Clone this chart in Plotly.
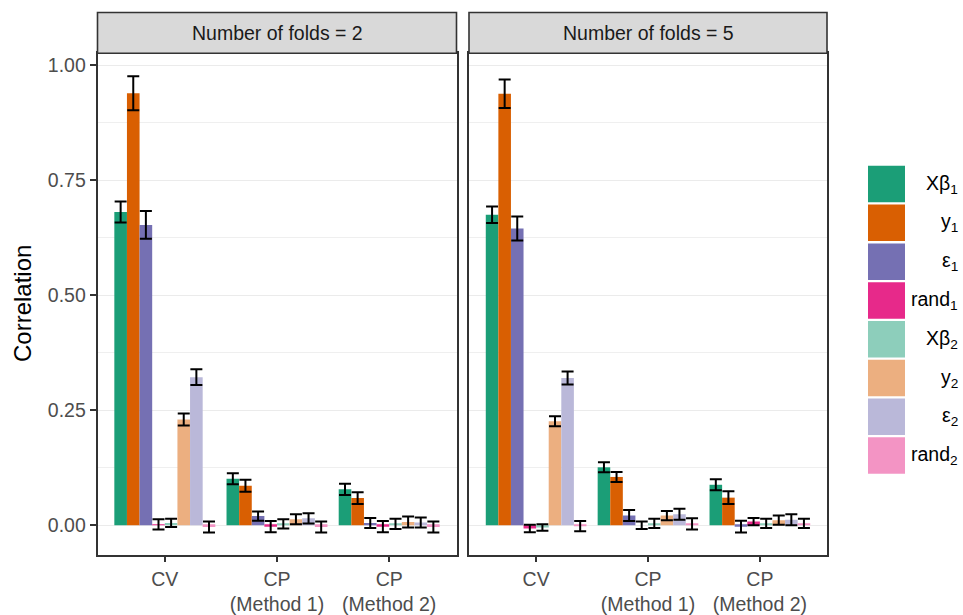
import plotly.graph_objects as go

# ---- data -------------------------------------------------------------
methods = ["CV", "CP<br>(Method 1)", "CP<br>(Method 2)"]
series = ["Xβ<sub>1</sub>", "y<sub>1</sub>", "ε<sub>1</sub>", "rand<sub>1</sub>",
          "Xβ<sub>2</sub>", "y<sub>2</sub>", "ε<sub>2</sub>", "rand<sub>2</sub>"]
panels = ["Number of folds = 2", "Number of folds = 5"]

# mean correlation per series, one row per method (CV, CP1, CP2)
mean_folds2 = {
    "CV":  [0.681, 0.939, 0.653, 0.002, 0.005, 0.230, 0.322, -0.004],
    "CP1": [0.101, 0.086, 0.020, -0.003, 0.003, 0.013, 0.015, -0.004],
    "CP2": [0.078, 0.059, 0.005, -0.003, 0.003, 0.007, 0.006, -0.004],
}
err_folds2 = {
    "CV":  [0.023, 0.037, 0.030, 0.011, 0.009, 0.013, 0.017, 0.012],
    "CP1": [0.012, 0.013, 0.010, 0.012, 0.010, 0.011, 0.011, 0.012],
    "CP2": [0.012, 0.013, 0.011, 0.012, 0.011, 0.012, 0.011, 0.012],
}
mean_folds5 = {
    "CV":  [0.675, 0.938, 0.645, -0.007, -0.005, 0.226, 0.320, -0.002],
    "CP1": [0.126, 0.105, 0.021, 0.000, 0.004, 0.021, 0.024, 0.003],
    "CP2": [0.088, 0.060, -0.003, 0.008, 0.004, 0.011, 0.012, 0.004],
}
err_folds5 = {
    "CV":  [0.018, 0.031, 0.026, 0.008, 0.007, 0.011, 0.014, 0.011],
    "CP1": [0.011, 0.011, 0.012, 0.008, 0.010, 0.010, 0.012, 0.012],
    "CP2": [0.012, 0.014, 0.013, 0.008, 0.010, 0.010, 0.012, 0.010],
}
method_keys = ["CV", "CP1", "CP2"]

colors = ["#1B9E77", "#D95F02", "#7570B3", "#E7298A",
          "#8DCEBB", "#ECAF80", "#BAB8D9", "#F394C4"]

# ---- layout geometry (pixels) -----------------------------------------
W, H = 963, 615
FONT = "Liberation Sans, Arial, sans-serif"
TICK_SIZE = 19.5
panel_x = [(97.5, 456.5), (469.0, 827.0)]
panel_top, panel_bot = 54.0, 562.0
strip_top = 12.7


def px(x):
    return x / W


def py(y):
    return 1 - y / H


fig = go.Figure()

for p, (means, errs) in enumerate([(mean_folds2, err_folds2), (mean_folds5, err_folds5)]):
    xa = "x" if p == 0 else "x2"
    ya = "y" if p == 0 else "y2"
    for s, name in enumerate(series):
        fig.add_trace(go.Bar(
            x=methods,
            y=[means[k][s] for k in method_keys],
            name=name,
            marker=dict(color=colors[s], line=dict(width=0)),
            error_y=dict(type="data", array=[errs[k][s] for k in method_keys],
                         color="black", thickness=2, width=6),
            xaxis=xa, yaxis=ya,
            showlegend=False,
        ))

axis_common_x = dict(
    type="category", range=[-0.6, 2.6], showgrid=False, zeroline=False,
    ticks="outside", ticklen=6, tickwidth=1.6, tickcolor="#333333",
    showline=True, mirror=True, linecolor="#333333", linewidth=1.6,
    tickfont=dict(family=FONT, size=TICK_SIZE, color="#4D4D4D"),
    fixedrange=True,
)
axis_common_y = dict(
    range=[-0.064, 1.026], tickvals=[0, 0.25, 0.5, 0.75, 1.0],
    ticktext=["0.00", "0.25", "0.50", "0.75", "1.00"],
    showgrid=True, gridcolor="#EBEBEB", gridwidth=1.4, zeroline=False,
    minor=dict(tickvals=[0.125, 0.375, 0.625, 0.875], showgrid=True,
               gridcolor="#EFEFEF", gridwidth=1.0, ticks=""),
    showline=True, mirror=True, linecolor="#333333", linewidth=1.6,
    tickfont=dict(family=FONT, size=TICK_SIZE, color="#4D4D4D"),
    fixedrange=True,
)

fig.update_layout(
    width=W, height=H,
    margin=dict(l=0, r=0, t=0, b=0),
    paper_bgcolor="white", plot_bgcolor="white",
    barmode="group", bargap=0.1, bargroupgap=0,
    xaxis=dict(domain=[px(panel_x[0][0]), px(panel_x[0][1])], anchor="y", **axis_common_x),
    xaxis2=dict(domain=[px(panel_x[1][0]), px(panel_x[1][1])], anchor="y2", **axis_common_x),
    yaxis=dict(domain=[py(panel_bot), py(panel_top)], anchor="x",
               ticks="outside", ticklen=6, tickwidth=1.6, tickcolor="#333333",
               showticklabels=True, **axis_common_y),
    yaxis2=dict(domain=[py(panel_bot), py(panel_top)], anchor="x2",
                ticks="", showticklabels=False, **axis_common_y),
    font=dict(family=FONT),
    showlegend=False,
)

shapes = []
annotations = []

# facet strips
for (x0, x1), label in zip(panel_x, panels):
    shapes.append(dict(type="rect", xref="paper", yref="paper",
                       x0=px(x0), x1=px(x1), y0=py(panel_top), y1=py(strip_top),
                       fillcolor="#D9D9D9", line=dict(color="#333333", width=1.6),
                       layer="above"))
    annotations.append(dict(text=label, xref="paper", yref="paper",
                            x=px((x0 + x1) / 2), y=py((strip_top + panel_top) / 2),
                            showarrow=False, xanchor="center", yanchor="middle",
                            font=dict(family=FONT, size=TICK_SIZE, color="#1A1A1A")))

# y-axis title
annotations.append(dict(text="Correlation", xref="paper", yref="paper",
                        x=px(23), y=py((panel_top + panel_bot) / 2),
                        textangle=-90, showarrow=False,
                        xanchor="center", yanchor="middle",
                        font=dict(family=FONT, size=24, color="black")))

# legend: colour keys with right-aligned labels
key_x0, key_x1 = 868, 905
key_top0, key_step, key_h = 168, 39.3, 37
for i, (name, col) in enumerate(zip(series, colors)):
    top = key_top0 + i * key_step
    shapes.append(dict(type="rect", xref="paper", yref="paper",
                       x0=px(key_x0), x1=px(key_x1), y0=py(top + key_h), y1=py(top),
                       fillcolor=col, line=dict(width=0)))
    annotations.append(dict(text=name, xref="paper", yref="paper",
                            x=px(960), y=py(top + key_h / 2),
                            showarrow=False, xanchor="right", yanchor="middle",
                            font=dict(family=FONT, size=TICK_SIZE, color="black")))

fig.update_layout(shapes=shapes, annotations=annotations)

fig.write_html("out.html", config={"displayModeBar": False})
